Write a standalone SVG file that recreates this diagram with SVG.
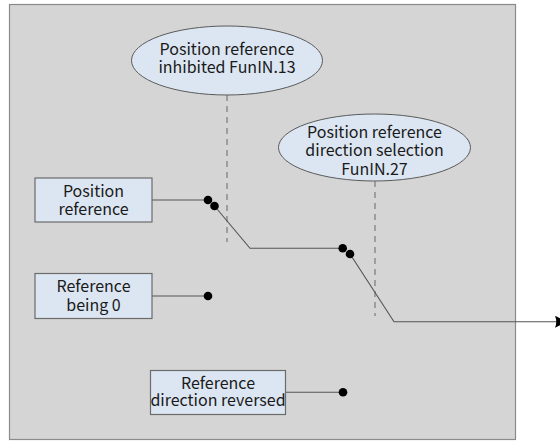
<svg xmlns="http://www.w3.org/2000/svg" width="560" height="441" viewBox="0 0 560 441">
<defs>
<style>
.bg{fill:#d5d5d5;stroke:#8a8a8a;stroke-width:1.2}
.box{fill:#dce6f2;stroke:#6b6b6b;stroke-width:1.2}
.ell{fill:#dce6f2;stroke:#5a5a5a;stroke-width:1}
.t{font-family:"Noto Sans CJK SC","Noto Sans",sans-serif;font-size:16px;fill:#1a1a1a;text-anchor:middle}
.ln{fill:none;stroke:#555;stroke-width:1.1}
.dash{fill:none;stroke:#8c8c8c;stroke-width:1.5;stroke-dasharray:6,5}
.dot{fill:#000}
</style>
<marker id="arr" markerWidth="13" markerHeight="12" refX="12" refY="6" orient="auto" markerUnits="userSpaceOnUse">
<path d="M0,0 L12,6 L0,12 Q2.5,6 0,0 Z" fill="#000"/>
</marker>
</defs>
<rect class="bg" x="9.5" y="4.5" width="506" height="435"/>
<g id="connectors">
<line class="dash" x1="227" y1="95" x2="227" y2="242"/>
<line class="dash" x1="375" y1="181" x2="375" y2="316"/>
<polyline class="ln" points="152,200 208,200"/>
<polyline class="ln" points="214.5,206 250,248.3 342.7,248.3"/>
<polyline class="ln" points="350,254 394,321.7 567,321.7" marker-end="url(#arr)"/>
<polyline class="ln" points="152,296 208,296"/>
<polyline class="ln" points="286,392.3 343,392.3"/>
<circle class="dot" cx="208" cy="200" r="4.3"/>
<circle class="dot" cx="214.5" cy="206" r="4.3"/>
<circle class="dot" cx="342.7" cy="248.3" r="4.3"/>
<circle class="dot" cx="350" cy="254" r="4.3"/>
<circle class="dot" cx="208" cy="296" r="4.3"/>
<circle class="dot" cx="343" cy="392.3" r="4.3"/>
</g>
<g id="inhibit">
<ellipse class="ell" cx="227" cy="60.5" rx="95.5" ry="34.5"/>
<text class="t" x="227" y="55">Position reference</text>
<text class="t" x="227" y="73">inhibited FunIN.13</text>
</g>
<g id="dirsel">
<ellipse class="ell" cx="374.5" cy="147.5" rx="96" ry="33.5"/>
<text class="t" x="374.5" y="138">Position reference</text>
<text class="t" x="374.5" y="156">direction selection</text>
<text class="t" x="374.5" y="174.5">FunIN.27</text>
</g>
<g id="posref">
<rect class="box" x="35" y="178" width="117" height="44"/>
<text class="t" x="93.5" y="196.7">Position</text>
<text class="t" x="93.5" y="215">reference</text>
</g>
<g id="zero">
<rect class="box" x="35" y="273.5" width="117" height="45"/>
<text class="t" x="93.5" y="292">Reference</text>
<text class="t" x="93.5" y="310.5">being 0</text>
</g>
<g id="reversed">
<rect class="box" x="150.5" y="370.5" width="135" height="44"/>
<text class="t" x="218" y="389">Reference</text>
<text class="t" x="218" y="405.5">direction reversed</text>
</g>
</svg>
